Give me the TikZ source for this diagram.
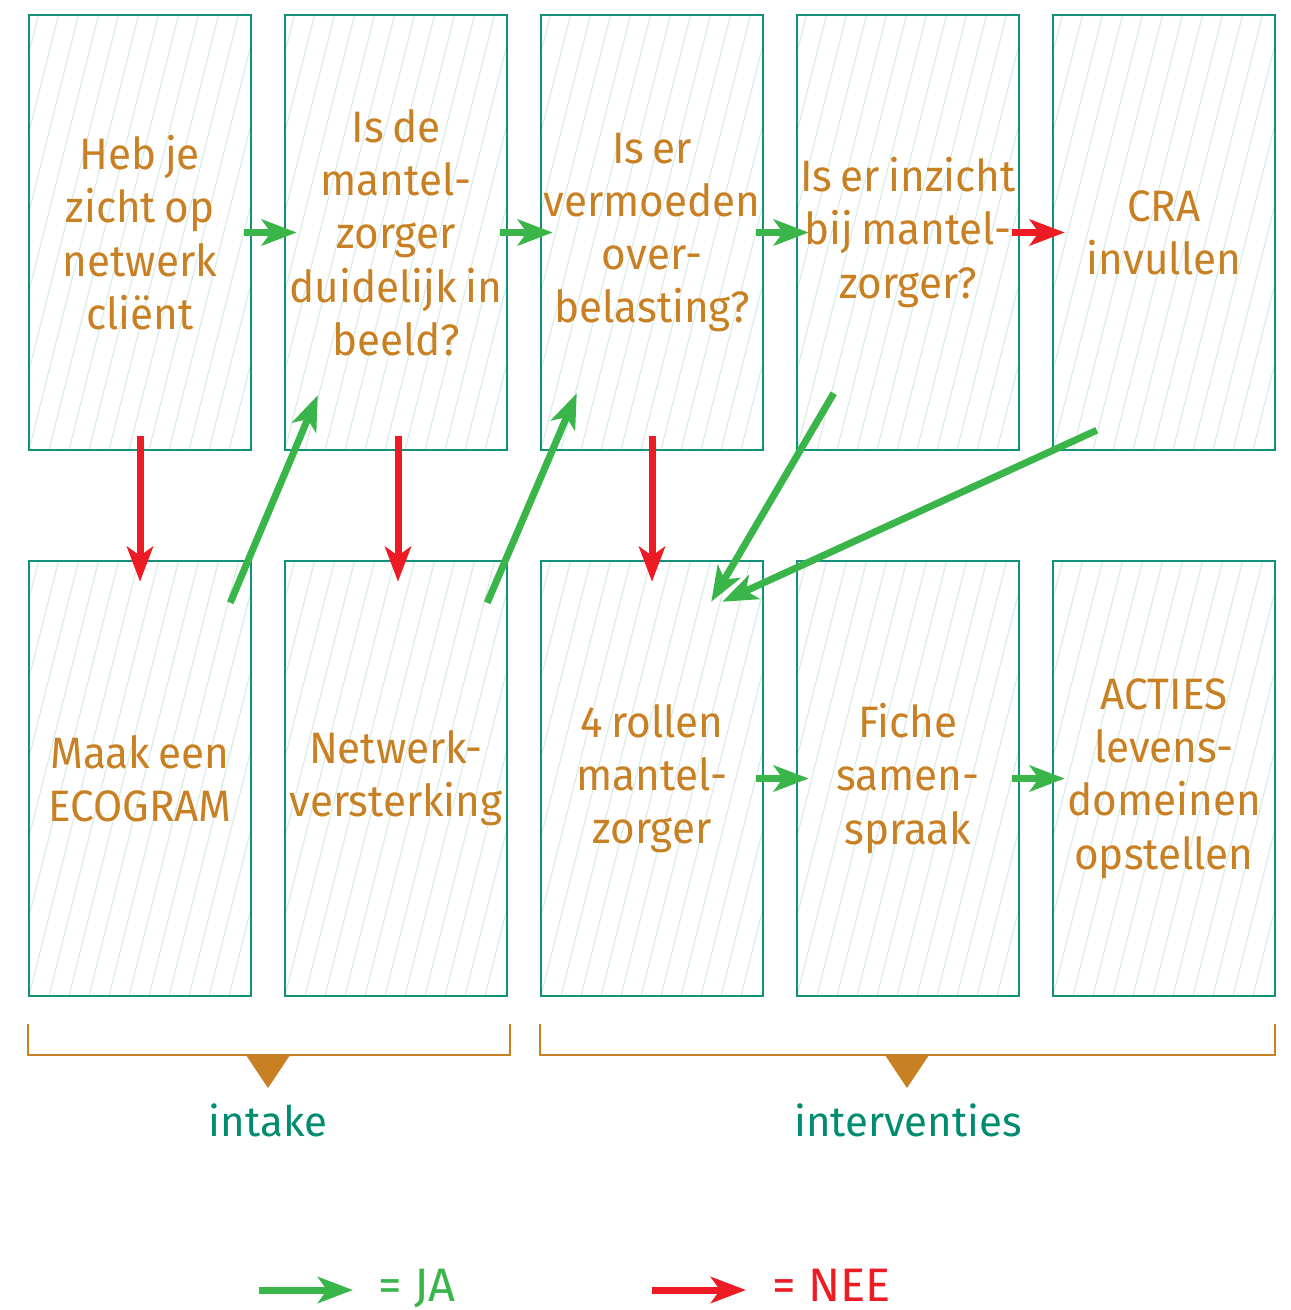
\documentclass[tikz,border=0pt]{standalone}
\usepackage{fontspec}
\setmainfont{Fira Sans}
\newfontfamily\boxfont{Fira Sans}[FakeStretch=0.96,WordSpace=0.75]
\usetikzlibrary{arrows.meta,calc}
\definecolor{boxteal}{RGB}{18,146,122}
\definecolor{labteal}{RGB}{0,140,110}
\definecolor{txtorange}{RGB}{201,128,34}
\definecolor{argreen}{RGB}{57,181,74}
\definecolor{arred}{RGB}{237,28,36}
\definecolor{hatchc}{RGB}{212,234,229}
\begin{document}
\begin{tikzpicture}[x=1pt,y=-1pt,
  box/.style={draw=boxteal, line width=2.5pt, minimum width=222pt, minimum height=435pt,
    inner sep=0pt, text=txtorange, align=center,
    font=\boxfont\fontsize{44}{53.3}\selectfont,
    path picture={\foreach \k in {-7,...,12}{\draw[hatchc, line width=1pt]
      ($(path picture bounding box.south west)+(\k*20pt,0pt)$) -- ++(110pt,437pt);}}},
  arr/.style={line width=7pt, -{Stealth[length=35pt,width=26pt,inset=9pt]}},
  ja/.style={arr, draw=argreen},
  nee/.style={arr, draw=arred},
  brace/.style={draw=txtorange, line width=2pt},
  lab/.style={text=labteal, font=\fontsize{42}{48}\selectfont},
  leg/.style={font=\fontsize{47}{52}\selectfont, anchor=base west, inner sep=0pt}
]
\useasboundingbox (0,0) rectangle (1291,1310);
\fill[white] (0,0) rectangle (1291,1310);

% top row
\node[box] (t1) at (140,232.5) {Heb je\\zicht op\\netwerk\\cliënt};
\node[box] (t2) at (396,232.5) {Is de\\mantel-\\zorger\\duidelijk in\\beeld?};
\node[box] (t3) at (652,232.5) {Is er\\vermoeden\\over-\\belasting?};
\node[box] (t4) at (908,232.5) {Is er inzicht\\bij mantel-\\zorger?};
\node[box] (t5) at (1164,232.5) {CRA\\invullen};
% bottom row
\node[box] (b1) at (140,778.5) {Maak een\\ECOGRAM};
\node[box] (b2) at (396,778.5) {Netwerk-\\versterking};
\node[box] (b3) at (652,778.5) {4 rollen\\mantel-\\zorger};
\node[box] (b4) at (908,778.5) {Fiche\\samen-\\spraak};
\node[box] (b5) at (1164,778.5) {ACTIES\\levens-\\domeinen\\opstellen};

% horizontal arrows
\draw[ja] ($(t1.east)+(-8,0)$) -- ($(t2.west)+(13,0)$);
\draw[ja] ($(t2.east)+(-8,0)$) -- ($(t3.west)+(13,0)$);
\draw[ja] ($(t3.east)+(-8,0)$) -- ($(t4.west)+(13,0)$);
\draw[nee] ($(t4.east)+(-8,0)$) -- ($(t5.west)+(13,0)$);
\draw[ja] ($(b3.east)+(-8,0)$) -- ($(b4.west)+(13,0)$);
\draw[ja] ($(b4.east)+(-8,0)$) -- ($(b5.west)+(13,0)$);

% vertical red arrows
\draw[nee] ($(t1.south)+(0,-15)$) -- ($(b1.north)+(0,22)$);
\draw[nee] ($(t2.south)+(2,-15)$) -- ($(b2.north)+(2,22)$);
\draw[nee] ($(t3.south)+(0,-15)$) -- ($(b3.north)+(0,22)$);

% diagonal green arrows
\draw[ja] ($(b1.north east)+(-22,43)$) -- ($(t2.south west)+(34,-56)$);
\draw[ja] ($(b2.north east)+(-21,43)$) -- ($(t3.south west)+(37,-58)$);
\draw[ja] ($(t4.south west)+(38,-58)$) -- ($(b3.north east)+(-53,42)$);
\draw[ja] ($(t5.south west)+(45,-21)$) -- ($(b3.north east)+(-42,42)$);

% brackets
\draw[brace] (28,1024) -- (28,1055) -- (510,1055) -- (510,1024);
\fill[txtorange] (246,1055) -- (290,1055) -- (268,1088) -- cycle;
\draw[brace] (540,1024) -- (540,1055) -- (1275,1055) -- (1275,1024);
\fill[txtorange] (885,1055) -- (929,1055) -- (907,1088) -- cycle;
\node[lab] (intake) at (268,1120) {intake};
\node[lab] (interv) at (908,1120) {interventies};

% legend
\coordinate (ga) at (259,1290);
\coordinate (gb) at (353,1290);
\coordinate (ra) at (652,1290);
\coordinate (rb) at (746,1290);
\draw[ja] (ga) -- (gb);
\draw[nee] (ra) -- (rb);
\node[leg, text=argreen] (lja) at (378,1301) {= JA};
\node[leg, text=arred] (lnee) at (772,1301) {= NEE};
\end{tikzpicture}
\end{document}
